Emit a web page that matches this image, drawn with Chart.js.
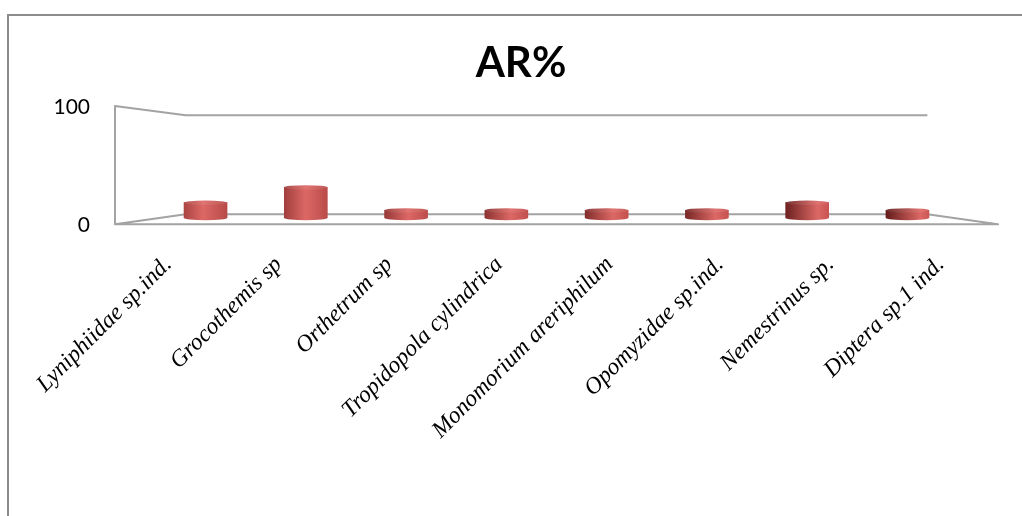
<!DOCTYPE html>
<html>
<head>
<meta charset="utf-8">
<title>AR%</title>
<script src="https://cdn.jsdelivr.net/npm/chart.js@4.4.1/dist/chart.umd.min.js"></script>
<style>
  html, body { margin: 0; padding: 0; background: #fff; }
  canvas { display: block; }
</style>
</head>
<body>
<canvas id="chart" width="1022" height="516"></canvas>
<script>
// Relative abundance (AR%) per taxon
const chartTitle = 'AR%';
const categories = [
  'Lyniphiidae sp.ind.',
  'Grocothemis sp',
  'Orthetrum sp',
  'Tropidopola cylindrica',
  'Monomorium areriphilum',
  'Opomyzidae sp.ind.',
  'Nemestrinus sp.',
  'Diptera sp.1 ind.'
];
const arPercent = [15.38, 30.77, 7.69, 7.69, 7.69, 7.69, 15.38, 7.69];
const valueTicks = [0, 100];

// depth of the pseudo-3D box: how much the back wall shrinks and the columns sit inside it
const BACK_SHRINK_X = 0.84;
const COLUMN_SHRINK_X = 0.9085;
const CAP_RY = 2.2;

function lerp(a, b, t) { return a + (b - a) * t; }
function hex(s) { return [1, 3, 5].map(k => parseInt(s.substr(k, 2), 16)); }
function mixRgb(a, b, t) { return a.map((v, i) => lerp(v, b[i], t)); }
function css(c) { return 'rgb(' + c.map(v => Math.round(v)).join(',') + ')'; }

// horizontal shading of a cylinder; the highlight drifts right and the left side darkens across the plot
function cylinderGradient(ctx, area, x, rx, lighten) {
  const t = Math.max(0, Math.min(1, (x - area.left) / (area.right - area.left)));
  const l = lighten || 0;
  const white = [255, 255, 255];
  const left = mixRgb(mixRgb(hex('#b44a48'), hex('#5a1716'), t), white, l);
  const mid = mixRgb(hex('#dc6865'), white, l);
  const right = mixRgb(mixRgb(hex('#b44846'), hex('#cf5855'), t), white, l);
  const g = ctx.createLinearGradient(x - rx, 0, x + rx, 0);
  g.addColorStop(0, css(left));
  g.addColorStop(Math.min(0.9, 0.4 + 0.45 * t), css(mid));
  g.addColorStop(1, css(right));
  return g;
}

function planes(chart) {
  const a = chart.chartArea, y = chart.scales.y;
  const cy = (a.top + a.bottom) / 2;
  const cx = (a.left + a.right) / 2;
  return {
    front: v => cy - 3 + (y.getPixelForValue(v) - cy) * 1.188,
    back: v => cy - 3.5 + (y.getPixelForValue(v) - cy) * 0.993,
    fL: a.left, fR: a.right,
    bL: cx - (cx - a.left) * BACK_SHRINK_X,
    bR: cx + (a.right - cx) * BACK_SHRINK_X
  };
}

const outerBorder = {
  id: 'outerBorder',
  beforeDraw(chart) {
    const ctx = chart.ctx;
    ctx.save();
    ctx.fillStyle = '#fff';
    ctx.fillRect(0, 0, chart.width, chart.height);
    ctx.strokeStyle = '#8c8c8c';
    ctx.lineWidth = 2;
    ctx.strokeRect(8, 15, chart.width + 20, chart.height + 20);
    ctx.restore();
  }
};

const box3d = {
  id: 'box3d',
  beforeDatasetsDraw(chart) {
    const ctx = chart.ctx;
    const p = planes(chart);
    const top = valueTicks[valueTicks.length - 1], zero = valueTicks[0];
    ctx.save();
    ctx.strokeStyle = '#a3a3a3';
    ctx.lineWidth = 2;
    ctx.lineJoin = 'round';
    // side wall outline + back wall top edge
    ctx.beginPath();
    ctx.moveTo(p.fL, p.front(zero));
    ctx.lineTo(p.fL, p.front(top));
    ctx.lineTo(p.bL, p.back(top));
    ctx.lineTo(p.bR, p.back(top));
    ctx.stroke();
    // floor outline
    ctx.beginPath();
    ctx.moveTo(p.fL, p.front(zero));
    ctx.lineTo(p.bL, p.back(zero));
    ctx.lineTo(p.bR, p.back(zero));
    ctx.lineTo(p.fR, p.front(zero));
    ctx.closePath();
    ctx.stroke();
    ctx.restore();
  },
  afterDatasetsDraw(chart) {
    const ctx = chart.ctx;
    const area = chart.chartArea;
    const meta = chart.getDatasetMeta(0);
    ctx.save();
    meta.data.forEach(bar => {
      const { x, y, base, width } = bar.getProps(['x', 'y', 'base', 'width'], true);
      const rx = width / 2;
      // rounded bottom of the cylinder
      ctx.fillStyle = cylinderGradient(ctx, area, x, rx, 0);
      ctx.beginPath();
      ctx.ellipse(x, base, rx, CAP_RY, 0, 0, Math.PI);
      ctx.fill();
      // top cap
      ctx.fillStyle = cylinderGradient(ctx, area, x, rx, 0.08);
      ctx.beginPath();
      ctx.ellipse(x, y, rx, CAP_RY, 0, 0, Math.PI * 2);
      ctx.fill();
    });
    ctx.restore();
  },
  afterDraw(chart) {
    const ctx = chart.ctx;
    const p = planes(chart);
    ctx.save();
    ctx.fillStyle = '#000';
    ctx.font = '21px Lato';
    ctx.textAlign = 'right';
    ctx.textBaseline = 'middle';
    valueTicks.forEach(v => ctx.fillText(String(v), p.fL - 25, p.front(v) + 1));
    ctx.restore();
  }
};

// blank spacer axis (keeps the plot box clear of the value labels drawn above)
const spacer = w => ({
  type: 'linear',
  display: true,
  ticks: { display: false },
  grid: { display: false, drawTicks: false },
  border: { display: false },
  afterFit(s) { s.width = w; }
});

new Chart(document.getElementById('chart'), {
  type: 'bar',
  data: {
    labels: categories,
    datasets: [{
      label: chartTitle,
      data: arPercent.map((v, i) => ({ x: i, y: v })),
      xAxisID: 'xBar',
      yAxisID: 'y',
      barThickness: 43,
      borderWidth: 0,
      backgroundColor: c => {
        const chart = c.chart;
        if (!chart.chartArea) return '#c0504d';
        const x = chart.scales.xBar.getPixelForValue(c.dataIndex);
        return cylinderGradient(chart.ctx, chart.chartArea, x, 21.5, 0);
      }
    }]
  },
  options: {
    responsive: false,
    animation: false,
    devicePixelRatio: 1,
    layout: { padding: { left: 20, right: 0, top: 0, bottom: 0 } },
    plugins: {
      legend: { display: false },
      tooltip: { enabled: false },
      title: {
        display: true,
        text: chartTitle,
        color: '#000',
        font: { family: 'Lato', weight: 'bold', size: 42 },
        padding: { top: 38, bottom: 30 }
      }
    },
    scales: {
      x: {
        type: 'category',
        position: 'bottom',
        grid: { display: false, drawTicks: false },
        border: { display: false },
        ticks: {
          autoSkip: false,
          minRotation: 45,
          maxRotation: 45,
          padding: 33,
          labelOffset: -2,
          color: '#000',
          font: { family: 'Liberation Serif', style: 'italic', size: 23.5 }
        },
        afterFit(s) {
          s.height = 298;
          s.paddingLeft = 0;
          s.paddingRight = 0;
        }
      },
      xBar: {
        type: 'linear',
        display: false,
        offset: false,
        min: 3.5 - 4 / COLUMN_SHRINK_X,
        max: 3.5 + 4 / COLUMN_SHRINK_X
      },
      y: {
        type: 'linear',
        display: false,
        min: valueTicks[0],
        max: valueTicks[valueTicks.length - 1]
      },
      padLeft: Object.assign(spacer(95), { position: 'left' }),
      padRight: Object.assign(spacer(24), { position: 'right' })
    }
  },
  plugins: [outerBorder, box3d]
});
</script>
</body>
</html>
